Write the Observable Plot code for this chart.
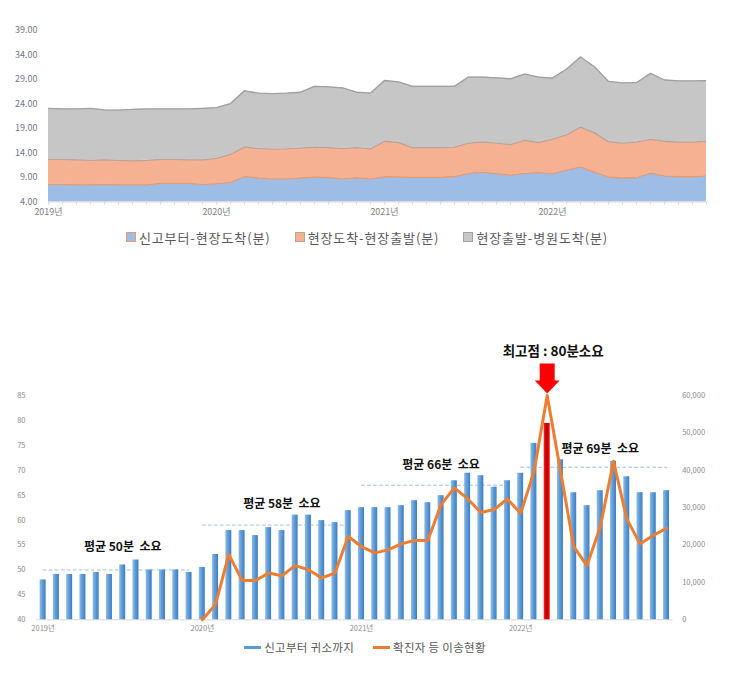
<!DOCTYPE html>
<html><head><meta charset="utf-8">
<script src="https://cdn.jsdelivr.net/npm/d3@7"></script>
<script src="https://cdn.jsdelivr.net/npm/@observablehq/plot@0.6"></script>
<style>
body{margin:0;background:#fff;font-family:"Noto Sans CJK KR","Noto Sans",sans-serif;}
#wrap{position:relative;width:730px;height:674px;overflow:hidden;}
#topC{position:absolute;left:0;top:0;}
#bottomC{position:absolute;left:0;top:330px;}
#bottomC svg text{white-space:pre;}
.legend{position:absolute;left:0;width:730px;display:flex;justify-content:center;align-items:center;color:#595959;white-space:nowrap;}
#legend1{top:228px;height:18px;font-size:13px;gap:24px;letter-spacing:0.9px;padding-left:2px;}
#legend2{top:638px;height:18px;font-size:11.5px;gap:19px;letter-spacing:0.3px;}
.sw{display:inline-block;width:8px;height:8px;margin-right:3px;vertical-align:middle;}
.ln{display:inline-block;width:17px;height:3px;margin-right:3px;vertical-align:middle;}
.item{display:flex;align-items:center;}
</style></head>
<body><div id="wrap"><div id="topC"></div><div id="legend1" class="legend"></div><div id="bottomC"></div><div id="legend2" class="legend"></div></div>
<script>
// ---------- categories ----------
const years = [2019, 2020, 2021, 2022];
const months = years.flatMap(y => d3.range(1, 13).map(m => `${y}-${String(m).padStart(2, "0")}`));

// ---------- top chart: stacked minutes ----------
const seriesNames = ["신고부터-현장도착(분)", "현장도착-현장출발(분)", "현장출발-병원도착(분)"];
const callToScene = [
  7.6, 7.6, 7.5, 7.5, 7.6, 7.5, 7.5, 7.5, 7.8, 7.8, 7.8, 7.6,
  7.75, 8.0, 9.2, 8.9, 8.7, 8.7, 8.9, 9.1, 9.0, 8.7, 8.95, 8.7,
  9.15, 9.1, 9.05, 9.05, 9.05, 9.2, 9.85, 10.1, 9.8, 9.5, 9.85, 10.0,
  9.8, 10.5, 11.15, 10.1, 9.1, 8.9, 9.0, 9.9, 9.35, 9.15, 9.15, 9.35
];
const sceneToDepart = [
  5.1, 5.1, 5.1, 5.0, 5.0, 5.0, 4.9, 5.0, 4.9, 4.9, 4.8, 5.0,
  5.15, 5.7, 6.05, 6.0, 6.1, 6.15, 6.1, 6.1, 6.1, 6.2, 6.15, 6.15,
  7.25, 7.0, 6.05, 6.05, 6.05, 6.0, 6.15, 6.1, 6.2, 6.2, 6.75, 6.1,
  7.05, 7.2, 8.15, 8.0, 7.2, 7.1, 7.2, 6.9, 7.05, 7.05, 7.05, 7.1
];
const departToHospital = [
  10.4, 10.3, 10.4, 10.6, 10.2, 10.25, 10.5, 10.5, 10.3, 10.3, 10.4, 10.5,
  10.35, 10.4, 11.45, 11.3, 11.3, 11.35, 11.4, 12.4, 12.4, 12.4, 11.3, 11.35,
  12.4, 12.4, 12.5, 12.5, 12.5, 12.4, 13.5, 13.3, 13.35, 13.45, 13.5, 13.4,
  12.45, 13.4, 14.3, 13.5, 12.3, 12.3, 12.15, 13.45, 12.5, 12.5, 12.5, 12.3
];
const topTicks = [4, 9, 14, 19, 24, 29, 34, 39];
const fillColors = ["#9dbde6", "#f5b192", "#c6c6c6"];
const lineColors = ["#eb9a6c", "#b7a59c", "#a0a0a0"];

// ---------- bottom chart ----------
const barLabel = "신고부터 귀소까지";
const lineLabel = "확진자 등 이송현황";
const returnMinutes = [
  48.0, 49.1, 49.1, 49.1, 49.5, 49.1, 51.0, 52.0, 50.0, 50.0, 50.0, 49.5,
  50.5, 53.1, 57.9, 57.9, 56.9, 58.5, 57.9, 61.0, 61.0, 59.9, 59.5, 61.9,
  62.5, 62.5, 62.5, 62.9, 63.9, 63.5, 64.9, 67.9, 69.4, 68.9, 66.6, 67.9,
  69.4, 75.4, 79.4, 72.1, 65.5, 62.9, 65.9, 71.8, 68.7, 65.5, 65.5, 65.9
];
const transfers = [
  null, null, null, null, null, null, null, null, null, null, null, null,
  0, 4100, 17500, 10500, 10500, 12500, 11800, 14500, 13400, 11200, 12500, 22300,
  19600, 17900, 18700, 20300, 21200, 21200, 30800, 35300, 32400, 28700, 29500, 32300,
  28500, 39500, 60000, 39900, 19600, 14500, 24800, 42400, 27000, 20300, 22600, 24500
];
const leftTicks = [40, 45, 50, 55, 60, 65, 70, 75, 80, 85];
const rightTicks = [0, 10000, 20000, 30000, 40000, 50000, 60000];
const avgLineValues = [50, 59, 67, 70.6];
const avgLabels = ["평균 50분  소요", "평균 58분  소요", "평균 66분  소요", "평균 69분  소요"];
const avgLabelMonths = ["2019-07", "2020-07", "2021-07", "2022-07"];
const avgLabelY = [54.6, 63.3, 71.0, 74.2];
const peakMonth = "2022-03";
const peakLabel = "최고점 : 80분소요";
const peakLabelY = 93.8;
const arrowTipY = 85.4;

const FONT = '"Noto Sans CJK KR","Noto Sans",sans-serif';

// ---------- top chart ----------
const long = [callToScene, sceneToDepart, departToHospital].flatMap((arr, k) =>
  arr.map((v, i) => ({i, series: seriesNames[k], value: v, fillC: fillColors[k], lineC: lineColors[k]})));

const topChart = Plot.plot({
  width: 730, height: 226,
  marginLeft: 48, marginRight: 24, marginTop: 30, marginBottom: 24.5,
  style: {fontFamily: FONT, fontSize: "9px", background: "transparent", overflow: "visible"},
  x: {domain: [0, 47], axis: null},
  y: {domain: [4, 39], axis: null},
  color: {type: "identity"},
  marks: [
    Plot.areaY(long, {x: "i", y: "value", z: "series", order: seriesNames, fill: "fillC", clip: true}),
    Plot.lineY(long, Plot.stackY2({x: "i", y: "value", z: "series", order: seriesNames, stroke: "lineC", strokeWidth: 1.3, clip: true})),
    Plot.ruleY([4], {stroke: "#d9d9d9"}),
    Plot.axisX(d3.range(48), {tickSize: 3, tickFormat: () => "", stroke: "#d9d9d9", label: null}),
    Plot.axisX([0, 12, 24, 36], {tickSize: 0, tickPadding: 7, tickFormat: i => `${years[i / 12]}년`, fill: "#7f7f7f", fontSize: 9, label: null}),
    Plot.axisY(topTicks, {tickSize: 0, tickPadding: 11, tickFormat: d => d.toFixed(2), fill: "#6f7a8a", fontSize: 9, label: null})
  ]
});
document.getElementById("topC").append(topChart);

// legend 1
const l1 = document.getElementById("legend1");
seriesNames.forEach((s, k) => {
  const it = document.createElement("span"); it.className = "item";
  it.innerHTML = `<span class="sw" style="background:${fillColors[k]};border:1px solid ${lineColors[k]}"></span>${s}`;
  l1.append(it);
});

// ---------- bottom chart ----------
const bottomData = months.map((m, i) => ({month: m, minutes: returnMinutes[i], cases: transfers[i]}));
const toLeft = v => 40 + v * 45 / 60000;
const avgSegs = years.flatMap((y, k) => [`${y}-01`, `${y}-12`].map(m => ({year: y, month: m, value: avgLineValues[k]})));

const blockArrow = {
  draw(ctx, l) {
    const hw = 12.5, sw = 7.5, hh = 13;
    ctx.moveTo(0, -l);
    ctx.lineTo(hw, -l + hh);
    ctx.lineTo(sw, -l + hh);
    ctx.lineTo(sw, 0);
    ctx.lineTo(-sw, 0);
    ctx.lineTo(-sw, -l + hh);
    ctx.lineTo(-hw, -l + hh);
    ctx.closePath();
  }
};

const bottomChart = Plot.plot({
  width: 730, height: 310,
  marginTop: 65, marginBottom: 20.7, marginLeft: 36, marginRight: 57.3,
  style: {fontFamily: FONT, fontSize: "8px", background: "transparent", overflow: "visible"},
  x: {type: "band", domain: months, paddingInner: 0.55, paddingOuter: 0.275, round: false, axis: null},
  y: {domain: [40, 85], axis: null},
  color: {type: "identity"},
  marks: [
    Plot.ruleY([40], {stroke: "#d9d9d9"}),
    Plot.lineY(avgSegs, {x: "month", y: "value", z: "year", stroke: "#9dc3e6", strokeDasharray: "3,3", strokeWidth: 1}),
    Plot.barY(bottomData, {x: "month", y1: 40, y2: "minutes", fill: d => d.month === peakMonth ? "url(#gRed)" : "url(#gBlue)"}),
    Plot.lineY(bottomData.filter(d => d.cases != null), {x: "month", y: d => toLeft(d.cases), stroke: "#ed7d31", strokeWidth: 3, strokeLinejoin: "round", strokeLinecap: "round"}),
    Plot.text(avgLabels, {x: (d, k) => avgLabelMonths[k], y: (d, k) => avgLabelY[k], text: d => d, fontWeight: "bold", fontSize: 12, fill: "#111"}),
    Plot.text([peakLabel], {x: () => peakMonth, y: peakLabelY, dx: 6, text: d => d, fontWeight: "bold", fontSize: 13.5, fill: "#111"}),
    Plot.vector([peakMonth], {x: d => d, y: arrowTipY, length: 30, rotate: 180, anchor: "end", shape: blockArrow, fill: "#ff0000", stroke: "none"}),
    Plot.axisX(years.map(y => `${y}-01`), {tickSize: 0, tickPadding: 6, tickFormat: m => `${m.slice(0, 4)}년`, fill: "#8c8c8c", fontSize: 7.5, label: null}),
    Plot.axisY(leftTicks, {anchor: "left", tickSize: 0, tickPadding: 11, fill: "#8c8c8c", fontSize: 7.5, label: null}),
    Plot.axisY(rightTicks.map(toLeft), {anchor: "right", tickSize: 0, tickPadding: 9, fill: "#8c8c8c", fontSize: 7.5, label: null,
      tickFormat: v => d3.format(",")(Math.round((v - 40) * 60000 / 45))})
  ]
});
const defs = d3.select(bottomChart).insert("defs", ":first-child");
const gb = defs.append("linearGradient").attr("id", "gBlue").attr("x1", 0).attr("x2", 1).attr("y1", 0).attr("y2", 0);
gb.append("stop").attr("offset", "0%").attr("stop-color", "#8fbbe8");
gb.append("stop").attr("offset", "50%").attr("stop-color", "#5b9bd5");
gb.append("stop").attr("offset", "100%").attr("stop-color", "#3e7cc2");
const gr = defs.append("linearGradient").attr("id", "gRed").attr("x1", 0).attr("x2", 1).attr("y1", 0).attr("y2", 0);
gr.append("stop").attr("offset", "0%").attr("stop-color", "#ff2020");
gr.append("stop").attr("offset", "50%").attr("stop-color", "#b80000");
gr.append("stop").attr("offset", "100%").attr("stop-color", "#ff0000");
document.getElementById("bottomC").append(bottomChart);

// legend 2
const l2 = document.getElementById("legend2");
[[barLabel, "#5b9bd5"], [lineLabel, "#ed7d31"]].forEach(([s, c]) => {
  const it = document.createElement("span"); it.className = "item";
  it.innerHTML = `<span class="ln" style="background:${c}"></span>${s}`;
  l2.append(it);
});
</script>
</body></html>
